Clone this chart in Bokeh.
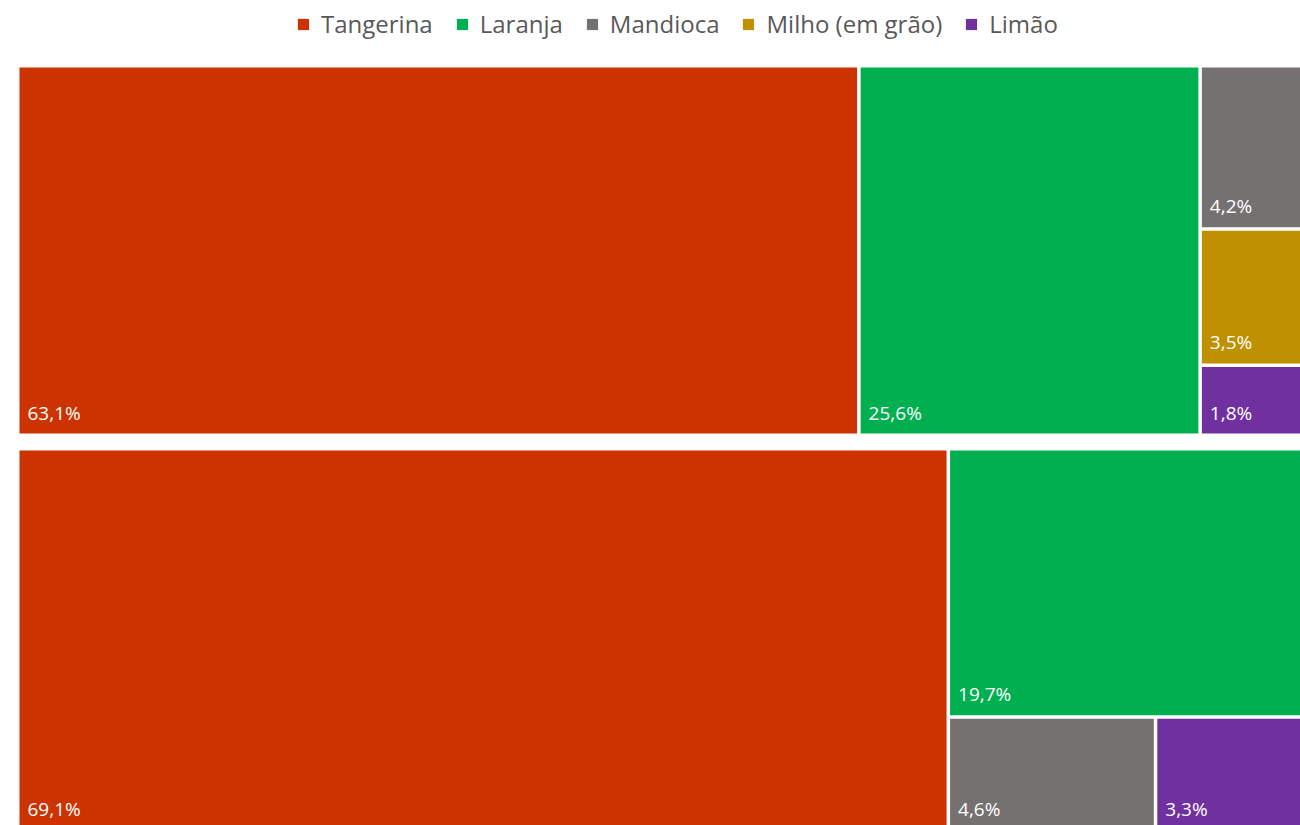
from bokeh.plotting import figure
from bokeh.models import ColumnDataSource, Range1d, Legend, LegendItem
from bokeh.core.properties import value
from bokeh.embed import file_html
from bokeh.resources import INLINE

# ---------------- data ----------------
categories = ["Tangerina", "Laranja", "Mandioca", "Milho (em grão)", "Limão"]
colors = ["#CC3300", "#00B050", "#767171", "#BF9000", "#7030A0"]
group_top = [63.1, 25.6, 4.2, 3.5, 1.8]      # % within first group
group_bottom = [69.1, 19.7, 4.6, 0.5, 3.3]   # % within second group (Milho hidden past right edge)

# ---------------- layout constants ----------------
W, H = 1300, 825
AREA_X0 = 17.25
AREA_W = 1309.0
BANDS = [(65.25, 434.75), (448.25, 830.75)]
GAP = 3.5


def worst(row, side, total, area):
    s = sum(row)
    length = s / total * area / side  # thickness of strip
    ratios = []
    for v in row:
        other = v / s * side
        ratios.append(max(length / other, other / length))
    return max(ratios)


def squarify(items, x, y, w, h):
    """items: list of (index, value) sorted desc. returns list of (index, x0, y0, x1, y1)."""
    out = []
    items = list(items)
    while items:
        total = sum(v for _, v in items)
        area = w * h
        wide = w >= h * 1.05
        side = h if wide else w
        row = [items[0]]
        while len(row) < len(items):
            cand = row + [items[len(row)]]
            if worst([v for _, v in cand], side, total, area) <= worst([v for _, v in row], side, total, area):
                row = cand
            else:
                break
        s = sum(v for _, v in row)
        if wide:
            cw = s / total * w
            cy = y
            for i, v in row:
                ch = v / s * h
                out.append((i, x, cy, x + cw, cy + ch))
                cy += ch
            x += cw
            w -= cw
        else:
            rh = s / total * h
            cx = x
            for i, v in row:
                cwid = v / s * w
                out.append((i, cx, y, cx + cwid, y + rh))
                cx += cwid
            y += rh
            h -= rh
        items = items[len(row):]
    return out


cells = {c: dict(left=[], right=[], top=[], bottom=[]) for c in categories}
lab = dict(x=[], y=[], text=[])

for values, (y0, y1) in zip([group_top, group_bottom], BANDS):
    items = sorted(enumerate(values), key=lambda t: -t[1])
    for i, a, b, c, d in squarify(items, AREA_X0, y0, AREA_W, y1 - y0):
        cat = categories[i]
        cells[cat]["left"].append(a + GAP / 2)
        cells[cat]["right"].append(c - GAP / 2)
        cells[cat]["top"].append(b + GAP / 2)
        cells[cat]["bottom"].append(d - GAP / 2)
        lx = a + GAP / 2 + 8
        if lx < W - 40:  # labels of cells beyond the visible area are not drawn
            lab["x"].append(lx)
            lab["y"].append(d - GAP / 2 - 21)
            lab["text"].append(f"{values[i]:.1f}".replace(".", ",") + "%")

p = figure(width=W, height=H, x_range=Range1d(0, W), y_range=Range1d(H, 0),
           output_backend="svg", toolbar_location=None,
           x_axis_location=None, y_axis_location=None, min_border=0)
p.outline_line_color = None
p.xgrid.visible = False
p.ygrid.visible = False
p.background_fill_color = "white"

items = []
for cat, col in zip(categories, colors):
    r = p.quad(left="left", right="right", top="top", bottom="bottom",
               source=ColumnDataSource(cells[cat]), fill_color=col, line_color=None)
    items.append(LegendItem(label=cat, renderers=[r]))

p.text(x="x", y="y", text="text", source=ColumnDataSource(lab),
       text_color="white", text_font=value("Open Sans"), text_font_size="19px",
       text_baseline="alphabetic", text_align="left")

legend = Legend(items=items, orientation="horizontal", location=(296, 785),
                glyph_width=14, glyph_height=14, label_standoff=11, spacing=22,
                padding=0, margin=0, border_line_color=None, background_fill_alpha=0,
                label_text_font="Open Sans", label_text_font_size="24px",
                label_text_color="#595959")
p.add_layout(legend)

open("out.html", "w").write(file_html(p, INLINE))
